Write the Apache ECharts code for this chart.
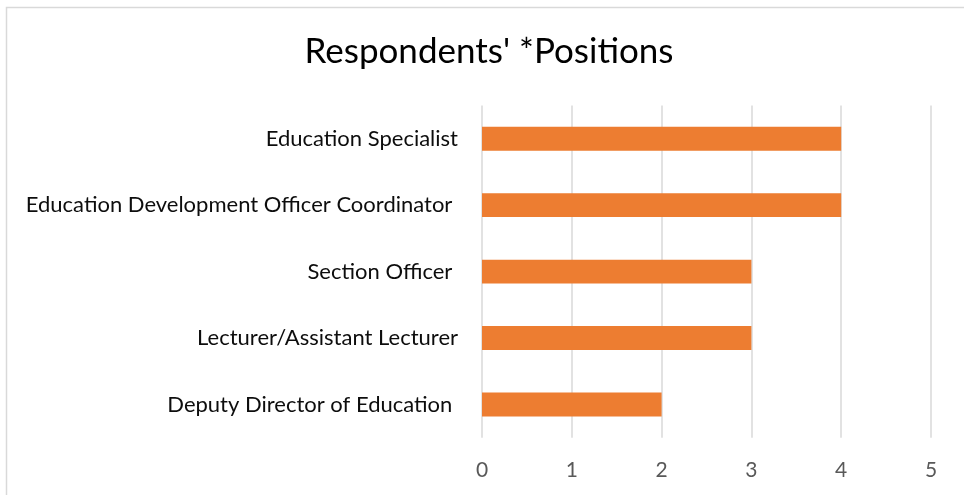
<!DOCTYPE html>
<html>
<head>
<meta charset="utf-8">
<script src="https://cdn.jsdelivr.net/npm/echarts@6/dist/echarts.min.js"></script>
<style>
  html, body { margin: 0; padding: 0; background: #fff; }
  #chart { width: 964px; height: 495px; }
</style>
</head>
<body>
<div id="chart"></div>
<script>
// data
var positions = [
  'Education Specialist',
  'Education Development Officer Coordinator ',
  'Section Officer ',
  'Lecturer/Assistant Lecturer',
  'Deputy Director of Education '
];
var counts = [4, 4, 3, 3, 2];
var xTicks = [0, 1, 2, 3, 4, 5];

var myChart = echarts.init(document.getElementById('chart'));

var option = {
  backgroundColor: '#fff',
  animation: false,
  title: {
    text: "Respondents' *Positions",
    left: 484,
    top: 29,
    textAlign: 'center',
    textStyle: {
      fontFamily: 'Lato',
      fontSize: 35,
      fontWeight: 'normal',
      color: '#000'
    }
  },
  graphic: [{
    type: 'rect',
    shape: { x: 6.5, y: 7.5, width: 1000, height: 600 },
    style: { fill: 'none', stroke: '#d9d9d9', lineWidth: 1.5 },
    silent: true
  }],
  grid: {
    left: 482,
    right: 33,
    top: 105.5,
    bottom: 57.3,
    containLabel: false
  },
  xAxis: {
    type: 'value',
    min: xTicks[0],
    max: xTicks[xTicks.length - 1],
    interval: 1,
    axisLine: { show: false },
    axisTick: { show: false },
    splitLine: { lineStyle: { color: '#d9d9d9', width: 1.5 } },
    axisLabel: {
      margin: 22,
      color: '#595959',
      fontFamily: 'Lato',
      fontSize: 21
    }
  },
  yAxis: {
    type: 'category',
    inverse: true,
    data: positions,
    axisLine: { show: false },
    axisTick: { show: false },
    axisLabel: {
      margin: 24,
      color: '#0d0d0d',
      fontFamily: 'Lato',
      fontSize: 22
    }
  },
  series: [{
    type: 'bar',
    data: counts,
    barWidth: '36%',
    itemStyle: { color: '#ED7D31' }
  }]
};

myChart.setOption(option);
</script>
</body>
</html>
